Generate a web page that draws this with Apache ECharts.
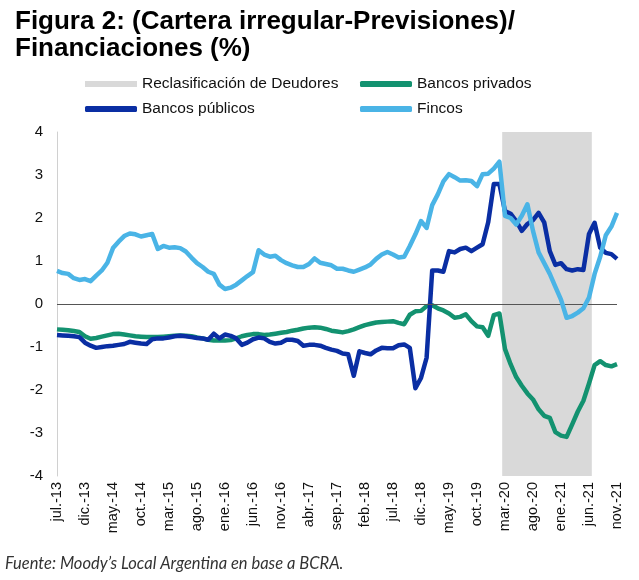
<!DOCTYPE html>
<html>
<head>
<meta charset="utf-8">
<script src="https://cdn.jsdelivr.net/npm/echarts@6/dist/echarts.min.js"></script>
<style>
html,body{margin:0;padding:0;background:#fff;}
#chart{width:639px;height:580px;}
</style>
</head>
<body>
<div id="chart"></div>
<script>
// Month abbreviations used for the category labels (jul-13 .. nov-21)
const monthNames = ['ene.','feb.','mar.','abr.','may.','jun.','jul.','ago.','sep.','oct.','nov.','dic.'];
const categories = [];
for (let y = 13; y <= 21; y++) {
  for (let m = 0; m < 12; m++) {
    if (y === 13 && m < 6) continue;
    if (y === 21 && m > 10) continue;
    categories.push(monthNames[m] + '-' + y);
  }
}

// Series values (%)
const bancosPublicos = [
 -0.72,-0.73,-0.74,-0.75,-0.77,-0.90,-0.97,-1.02,-1.00,-0.98,
 -0.97,-0.95,-0.93,-0.88,-0.90,-0.92,-0.93,-0.82,-0.80,-0.80,
 -0.78,-0.75,-0.74,-0.75,-0.77,-0.79,-0.80,-0.83,-0.69,-0.80,
 -0.71,-0.74,-0.80,-0.95,-0.90,-0.82,-0.78,-0.80,-0.88,-0.92,
 -0.90,-0.83,-0.83,-0.86,-0.97,-0.95,-0.95,-0.97,-1.02,-1.06,
 -1.09,-1.15,-1.17,-1.67,-1.10,-1.14,-1.17,-1.08,-1.02,-1.03,
 -1.03,-0.96,-0.94,-1.02,-1.96,-1.72,-1.25,0.78,0.78,0.75,
 1.23,1.20,1.28,1.31,1.23,1.31,1.39,1.90,2.79,2.79,
 2.16,2.10,1.93,1.70,1.86,1.95,2.12,1.90,1.23,0.91,
 0.95,0.81,0.78,0.81,0.79,1.63,1.89,1.31,1.19,1.16,
 1.05
];
const bancosPrivados = [
 -0.59,-0.60,-0.61,-0.63,-0.65,-0.75,-0.81,-0.79,-0.76,-0.73,
 -0.70,-0.69,-0.71,-0.73,-0.75,-0.76,-0.77,-0.77,-0.77,-0.76,
 -0.75,-0.74,-0.73,-0.74,-0.75,-0.78,-0.80,-0.83,-0.85,-0.85,
 -0.85,-0.84,-0.80,-0.75,-0.72,-0.70,-0.70,-0.72,-0.71,-0.69,
 -0.67,-0.65,-0.62,-0.60,-0.57,-0.55,-0.54,-0.55,-0.58,-0.62,
 -0.64,-0.66,-0.63,-0.59,-0.54,-0.49,-0.46,-0.43,-0.42,-0.41,
 -0.40,-0.44,-0.47,-0.25,-0.17,-0.16,-0.05,-0.03,-0.10,-0.15,
 -0.22,-0.32,-0.30,-0.24,-0.40,-0.52,-0.54,-0.74,-0.26,-0.22,
 -1.05,-1.40,-1.70,-1.90,-2.08,-2.22,-2.45,-2.60,-2.65,-2.98,
 -3.06,-3.09,-2.80,-2.50,-2.25,-1.85,-1.42,-1.33,-1.42,-1.45,
 -1.40
];
const fincos = [
 0.77,0.72,0.70,0.60,0.56,0.58,0.53,0.66,0.78,0.96,
 1.30,1.45,1.58,1.64,1.62,1.57,1.60,1.63,1.28,1.35,
 1.31,1.32,1.30,1.22,1.08,0.95,0.86,0.75,0.70,0.45,
 0.35,0.38,0.45,0.55,0.65,0.74,1.25,1.15,1.10,1.12,
 1.02,0.95,0.90,0.86,0.86,0.93,1.06,0.96,0.93,0.90,
 0.82,0.82,0.78,0.75,0.80,0.85,0.92,1.05,1.15,1.21,
 1.15,1.08,1.10,1.35,1.62,1.93,1.77,2.30,2.55,2.85,
 3.02,2.95,2.87,2.88,2.86,2.74,3.02,3.03,3.15,3.31,
 2.05,2.00,1.85,2.05,2.32,1.70,1.20,0.95,0.70,0.40,
 0.10,-0.32,-0.28,-0.20,-0.10,0.15,0.70,1.10,1.60,1.80,
 2.12
];

// Shaded period (Reclasificación de Deudores): first and last month covered
const shadeStart = 'mar.-20';
const shadeEnd = 'jun.-21';

const yTicks = [-4, -3, -2, -1, 0, 1, 2, 3, 4];

const names = ['Reclasificación de Deudores', 'Bancos privados', 'Bancos públicos', 'Fincos'];
const colors = { gray: '#d9d9d9', green: '#139270', dark: '#0a2ea3', light: '#4ab4e6' };

const chart = echarts.init(document.getElementById('chart'), null, { renderer: 'canvas' });

const iStart = categories.indexOf(shadeStart);
const iEnd = categories.indexOf(shadeEnd);

function legendAt(name, left, top, icon) {
  return {
    data: [name], left: left, top: top, icon: icon,
    itemWidth: 52, itemHeight: 6, itemGap: 0, padding: 0,
    selectedMode: false,
    textStyle: { fontFamily: 'Liberation Sans', fontSize: 15.5, color: '#111' }
  };
}

const option = {
  animation: false,
  backgroundColor: '#fff',
  title: {
    text: 'Figura 2: (Cartera irregular-Previsiones)/\nFinanciaciones (%)',
    left: 15, top: 8, padding: 0,
    textStyle: { fontFamily: 'Liberation Sans', fontWeight: 'bold', fontSize: 26, lineHeight: 27, color: '#000' }
  },
  legend: [
    legendAt(names[0], 85, 76, 'rect'),
    legendAt(names[1], 360, 76, 'roundRect'),
    legendAt(names[2], 85, 101, 'roundRect'),
    legendAt(names[3], 360, 101, 'roundRect')
  ],
  graphic: [{
    type: 'text', left: 5, top: 555,
    style: { text: 'Fuente: Moody\u2019s Local Argentina en base a BCRA.', font: 'italic 16.5px Lato', fill: '#333' }
  }],
  grid: { left: 57, right: 22, top: 132, bottom: 104, outerBoundsMode: 'none' },
  xAxis: [{
    type: 'category', data: categories, boundaryGap: false,
    axisLine: { show: false }, axisTick: { show: false },
    axisLabel: { interval: 4, rotate: 90, fontFamily: 'Liberation Sans', fontSize: 14.5, color: '#111', margin: 6 }
  }, {
    type: 'value', min: 0, max: categories.length - 1, show: false
  }],
  yAxis: {
    type: 'value', min: yTicks[0], max: yTicks[yTicks.length - 1], interval: 1,
    axisLine: { show: true, lineStyle: { color: '#d0d0d0', width: 1 } },
    axisTick: { show: false }, splitLine: { show: false },
    axisLabel: { fontFamily: 'Liberation Sans', fontSize: 15, color: '#111', margin: 14 }
  },
  series: [
    {
      name: names[0], type: 'line', xAxisIndex: 1, data: [[0, null]],
      showSymbol: false, silent: true,
      itemStyle: { color: colors.gray }, lineStyle: { color: colors.gray },
      markArea: {
        silent: true,
        itemStyle: { color: colors.gray },
        data: [[{ xAxis: iStart - 0.5 }, { xAxis: iEnd + 0.5 }]]
      },
      z: 1
    },
    {
      name: names[1], type: 'line', data: bancosPrivados, showSymbol: false, symbol: 'none',
      itemStyle: { color: colors.green }, lineStyle: { color: colors.green, width: 4.5, join: 'round' }, z: 3,
      markLine: {
        silent: true, symbol: 'none', label: { show: false },
        lineStyle: { color: '#555', width: 1, type: 'solid' },
        data: [{ yAxis: 0 }]
      }
    },
    {
      name: names[2], type: 'line', data: bancosPublicos, showSymbol: false, symbol: 'none',
      itemStyle: { color: colors.dark }, lineStyle: { color: colors.dark, width: 4.5, join: 'round' }, z: 4
    },
    {
      name: names[3], type: 'line', data: fincos, showSymbol: false, symbol: 'none',
      itemStyle: { color: colors.light }, lineStyle: { color: colors.light, width: 4.5, join: 'round' }, z: 5
    }
  ]
};
chart.setOption(option);
</script>
</body>
</html>
